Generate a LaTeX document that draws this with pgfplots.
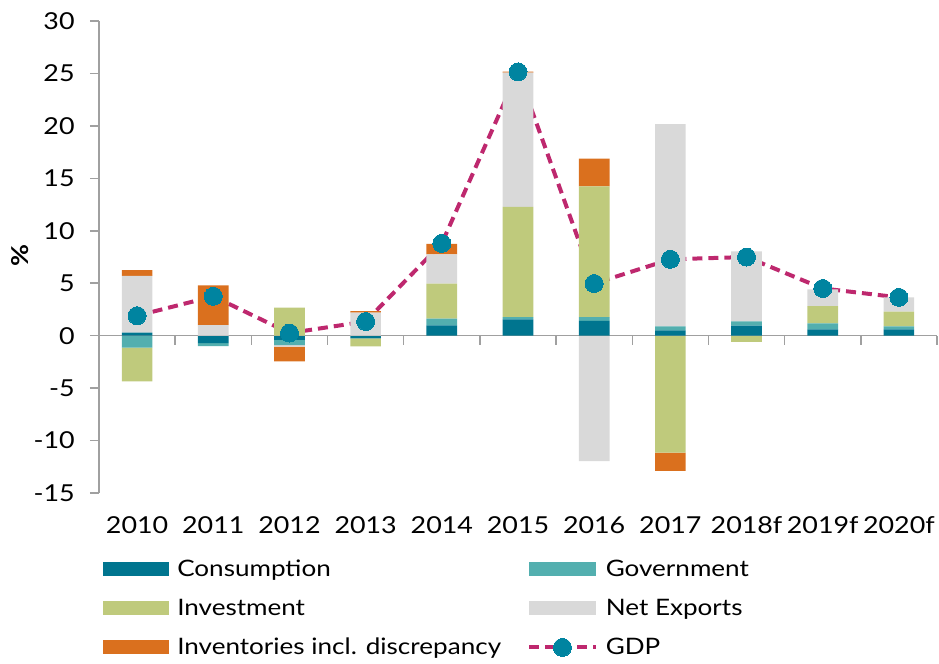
\documentclass[border=0pt]{standalone}
\usepackage{pgfplots}
\pgfplotsset{compat=1.18}
\usepackage{pgfplotstable}
\usepackage{fontspec}
\setmainfont{Lato}[FakeStretch=1.15]
\definecolor{cons}{RGB}{0,117,143}
\definecolor{gov}{RGB}{83,175,175}
\definecolor{inv}{RGB}{191,202,124}
\definecolor{nx}{RGB}{217,217,217}
\definecolor{invent}{RGB}{218,112,30}
\definecolor{gdpline}{RGB}{190,40,110}
\definecolor{gdpmark}{RGB}{0,132,160}
\definecolor{axgray}{RGB}{160,160,160}
\pgfplotstableread{
x Cp Gp Ip Np Vp Cn Gn In Nn Vn GDP
0 0.30 0 0 5.40 0.55 0 -1.15 -3.20 0 0 1.90
1 0 0 0 1.00 3.80 -0.70 -0.30 0 0 0 3.75
2 0 0 2.67 0 0 -0.40 -0.50 0 -0.15 -1.40 0.25
3 0 0 0 2.20 0.15 -0.25 0 -0.76 0 0 1.35
4 0.98 0.64 3.34 2.80 1.00 0 0 0 0 0 8.80
5 1.56 0.22 10.50 12.80 0.10 0 0 0 0 0 25.15
6 1.40 0.38 12.45 0 2.64 0 0 0 -11.95 0 4.97
7 0.50 0.38 0 19.30 0 0 0 -11.15 0 -1.75 7.28
8 0.95 0.41 0 6.67 0 0 0 -0.60 0 0 7.50
9 0.60 0.57 1.65 1.59 0 0 0 0 0 0 4.50
10 0.60 0.29 1.40 1.37 0 0 0 0 0 0 3.65
}\data
\pgfplotsset{common/.style={
  scale only axis, width=628.5pt, height=354pt,
  at={(0pt,0pt)}, anchor=south west,
  xmin=-0.5, xmax=10.5, ymin=-15, ymax=30,
  ybar stacked, bar width=23pt},
  barleg/.style={legend image code/.code={\fill[#1] (0pt,-5.25pt) rectangle (50pt,5.25pt);}},
  gdpleg/.style={legend image code/.code={\draw[#1, mark repeat=2, mark phase=2] plot coordinates {(0pt,0pt) (25pt,0pt) (50pt,0pt)};}}
}
\begin{document}
\begin{tikzpicture}
% negative parts, stacked downward from zero
\begin{axis}[common, hide axis]
\addplot[fill=cons, draw=none] table[x=x,y=Cn] {\data};
\addplot[fill=gov, draw=none] table[x=x,y=Gn] {\data};
\addplot[fill=inv, draw=none] table[x=x,y=In] {\data};
\addplot[fill=nx, draw=none] table[x=x,y=Nn] {\data};
\addplot[fill=invent, draw=none] table[x=x,y=Vn] {\data};
\end{axis}
% positive parts, GDP line, axes and legend
\begin{axis}[common,
  axis y line=left, axis x line=middle,
  axis line style={-, draw=axgray, line width=1.1pt},
  hide obscured x ticks=false, hide obscured y ticks=false,
  ytick={-15,-10,...,30},
  yticklabels={-15,-10,-5,0,5,10,15,20,25,30},
  xtick={-0.5,0.5,...,10.5},
  xticklabels={,,,,,,,,,,,},
  extra x ticks={0,1,...,10},
  extra x tick labels={2010,2011,2012,2013,2014,2015,2016,2017,2018f,2019f,2020f},
  extra x tick style={major tick length=0pt, tick style={draw=none},
     xticklabel style={yshift=-132pt}},
  major tick length=6.75pt,
  tick align=outside,
  tick style={axgray, line width=1.1pt},
  tick label style={font=\fontsize{17.5}{20}\selectfont, black},
  yticklabel style={xshift=-8pt},
  ylabel={\%},
  ylabel style={at={(axis description cs:-0.094,0.504)}, anchor=center, font=\fontsize{17.5}{20}\selectfont\bfseries},
  legend columns=2,
  legend cell align=left,
  legend style={draw=none, fill=none, at={(axis description cs:0,0)}, anchor=north west,
     yshift=-46pt, xshift=-0.5pt, font=\fontsize{17}{19}\selectfont, row sep=11.5pt,
     /tikz/every odd column/.append style={column sep=4pt},
     /tikz/every even column/.append style={column sep=17.5pt}},
]
\addplot[fill=cons, draw=none, barleg] table[x=x,y=Cp] {\data};
\addlegendentry{Consumption}
\addplot[fill=gov, draw=none, barleg] table[x=x,y=Gp] {\data};
\addlegendentry{Government}
\addplot[fill=inv, draw=none, barleg] table[x=x,y=Ip] {\data};
\addlegendentry{Investment}
\addplot[fill=nx, draw=none, barleg] table[x=x,y=Np] {\data};
\addlegendentry{Net Exports}
\addplot[fill=invent, draw=none, barleg] table[x=x,y=Vp] {\data};
\addlegendentry{Inventories incl. discrepancy}
\addplot[stack plots=false, sharp plot, color=gdpline, line width=3pt,
   dash pattern=on 7.5pt off 4.5pt,
   mark=*, mark size=6.75pt, mark options={solid, fill=gdpmark, draw=gdpmark, line width=0pt},
   gdpleg]
   table[x=x,y=GDP] {\data};
\addlegendentry{GDP}
\end{axis}
\pgfresetboundingbox
\path[use as bounding box] (-74.25pt,-128.25pt) rectangle (630pt,369.75pt);
\end{tikzpicture}
\end{document}
